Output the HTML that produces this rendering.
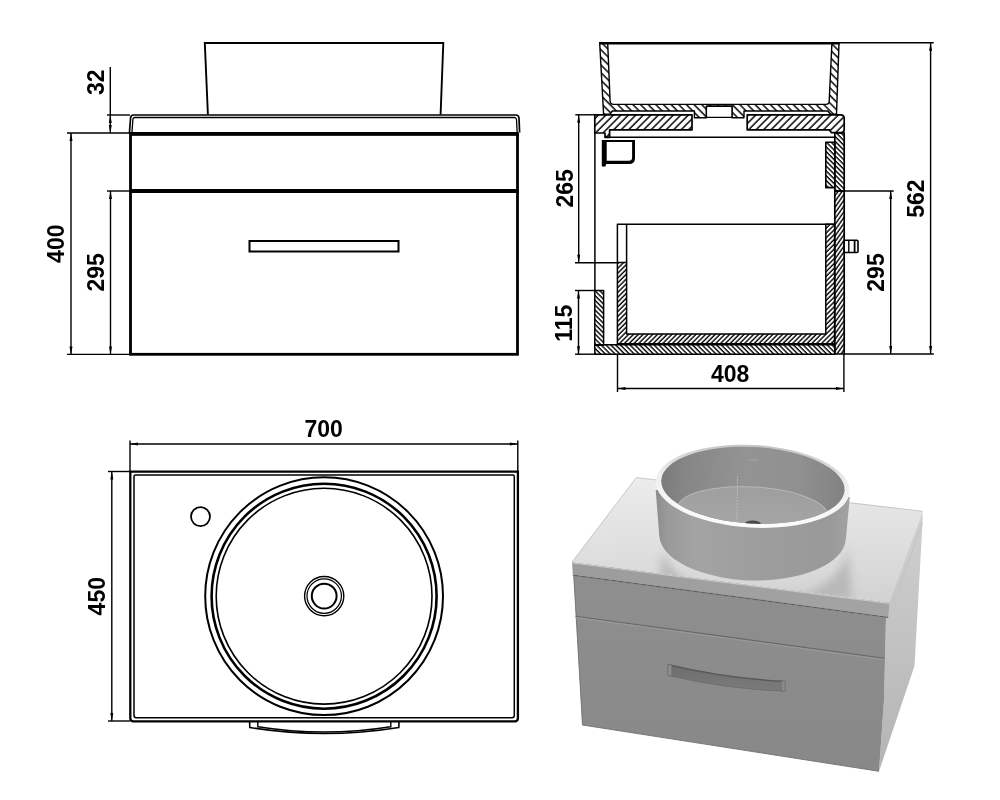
<!DOCTYPE html>
<html><head><meta charset="utf-8">
<style>
html,body{margin:0;padding:0;background:#fff;width:1000px;height:800px;overflow:hidden}
svg{display:block;filter:grayscale(1)}
text{font-family:"Liberation Sans",sans-serif;font-weight:bold;font-size:23px;fill:#000}
</style></head><body>
<svg width="1000" height="800" viewBox="0 0 1000 800">
<defs>
<pattern id="hw" patternUnits="userSpaceOnUse" width="5.3" height="10" patternTransform="rotate(45)">
<line x1="1" y1="-1" x2="1" y2="11" stroke="#000" stroke-width="1.45"/></pattern>
<pattern id="hb" patternUnits="userSpaceOnUse" width="5.4" height="10" patternTransform="rotate(-45)">
<line x1="1" y1="-1" x2="1" y2="11" stroke="#000" stroke-width="1.45"/></pattern>
<pattern id="hs" patternUnits="userSpaceOnUse" width="3.4" height="10" patternTransform="rotate(45)">
<line x1="1" y1="-1" x2="1" y2="11" stroke="#000" stroke-width="1.4"/></pattern>
<pattern id="hb2" patternUnits="userSpaceOnUse" width="3.4" height="10" patternTransform="rotate(-45)">
<line x1="1" y1="-1" x2="1" y2="11" stroke="#000" stroke-width="1.4"/></pattern>
<pattern id="hr" patternUnits="userSpaceOnUse" width="3.3" height="10" patternTransform="rotate(35)">
<line x1="1" y1="-1" x2="1" y2="11" stroke="#000" stroke-width="1.4"/></pattern>
<linearGradient id="gSide" x1="0" y1="0" x2="0" y2="1">
<stop offset="0" stop-color="#d0d0d0"/><stop offset="1" stop-color="#b4b4b4"/></linearGradient>
<linearGradient id="gFront" x1="0" y1="0" x2="0" y2="1">
<stop offset="0" stop-color="#8f8f8f"/><stop offset="1" stop-color="#888888"/></linearGradient>
<linearGradient id="gTop" x1="0.3" y1="0" x2="0.4" y2="1">
<stop offset="0" stop-color="#ececec"/><stop offset="0.6" stop-color="#dedede"/><stop offset="1" stop-color="#d3d3d3"/></linearGradient>
<linearGradient id="gBand" x1="0" y1="0" x2="1" y2="0">
<stop offset="0" stop-color="#9c9c9c"/><stop offset="1" stop-color="#a4a4a4"/></linearGradient>
<linearGradient id="gRim" x1="0" y1="0" x2="0" y2="1">
<stop offset="0" stop-color="#c4c4c4"/><stop offset="0.4" stop-color="#eeeeee"/><stop offset="1" stop-color="#fcfcfc"/></linearGradient>
<linearGradient id="gFloor" x1="0" y1="0" x2="0" y2="1">
<stop offset="0" stop-color="#9e9e9e"/><stop offset="1" stop-color="#a8a8a8"/></linearGradient>
<linearGradient id="gBowl" x1="0" y1="0" x2="1" y2="0">
<stop offset="0" stop-color="#8c8c8c"/><stop offset="0.06" stop-color="#9a9a9a"/><stop offset="0.2" stop-color="#a3a3a3"/><stop offset="0.55" stop-color="#9d9d9d"/><stop offset="0.9" stop-color="#999999"/><stop offset="1" stop-color="#a3a3a3"/></linearGradient>
<linearGradient id="gIn" x1="0" y1="0" x2="1" y2="0">
<stop offset="0" stop-color="#7a7a7a"/><stop offset="0.12" stop-color="#868686"/><stop offset="0.45" stop-color="#939393"/><stop offset="0.75" stop-color="#909090"/><stop offset="1" stop-color="#828282"/></linearGradient>
<linearGradient id="gHandle" x1="0" y1="0" x2="0" y2="1">
<stop offset="0" stop-color="#6c6c6c"/><stop offset="1" stop-color="#7c7c7c"/></linearGradient>
</defs>

<!-- ============ FRONT VIEW ============ -->
<g fill="none" stroke="#000">
<!-- basin -->
<path d="M207.9 114.5 L204.8 43 L443.3 43 L440.6 114.5" stroke-width="1.9"/>
<!-- worktop outer/inner -->
<path d="M129.4 133 L130.6 117.8 Q130.8 115 133.5 115 L515.8 115 Q518.8 115 519 118 L519.6 132.5" stroke-width="1.7"/>
<path d="M131.9 133 L132.9 119.5 Q133 117.5 135 117.5 L514.4 117.5 Q516.3 117.5 516.5 119.5 L517.2 133" stroke-width="1.3"/>
<!-- cabinet -->
<rect x="130.5" y="134" width="387" height="220.3" stroke-width="2.8"/>
<line x1="130" y1="133.9" x2="518.5" y2="133.9" stroke-width="3.8"/>
<line x1="130" y1="191" x2="518.5" y2="191" stroke-width="3.8"/>
<rect x="249.5" y="241" width="149" height="10.5" stroke-width="2"/>
</g>
<!-- dims front -->
<g stroke="#000" stroke-width="1.4" fill="none">
<line x1="110.3" y1="67" x2="110.3" y2="133"/>
<line x1="107" y1="115" x2="130" y2="115"/>
<line x1="67" y1="133" x2="130" y2="133"/>
<line x1="71" y1="133" x2="71" y2="354.4"/>
<line x1="67" y1="354.4" x2="130" y2="354.4"/>
<line x1="110.5" y1="191" x2="110.5" y2="354.4"/>
<line x1="107" y1="191" x2="130" y2="191"/>
</g>
<g fill="#000">
<path d="M110.3 115 l-1.5 8 h3z M110.3 133 l-1.5 -8 h3z"/>
<path d="M71 133 l-1.5 8 h3z M71 354.4 l-1.5 -8 h3z"/>
<path d="M110.5 191 l-1.5 8 h3z M110.5 354.4 l-1.5 -8 h3z"/>
</g>
<text transform="translate(103.7 82.3) rotate(-90)" text-anchor="middle">32</text>
<text transform="translate(63.8 243.7) rotate(-90)" text-anchor="middle">400</text>
<text transform="translate(103.6 272.4) rotate(-90)" text-anchor="middle">295</text>

<!-- ============ SECTION VIEW ============ -->
<g id="section" stroke="#000" stroke-linejoin="round">
<!-- basin section -->
<path fill="url(#hb)" stroke-width="1.4" d="M599.7 43.3 L607.7 43.3 L610.1 101 Q610.3 104.4 613.5 104.4 L826 104.4 Q829.1 104.4 829.2 101 L831.9 43.3 L839 43.3 L836.5 114.3 L830.3 114.3 L828 111 L744 111 L744 117.8 L732 117.8 L732 106.2 L706.4 106.2 L706.4 117.8 L694.4 117.8 L694.4 111 L612.2 111 L609.9 114.3 L603.6 114.3 Z"/>
<rect x="706.4" y="106.2" width="25.6" height="11.2" fill="#fff" stroke-width="1.4"/>
<line x1="599" y1="43.3" x2="839.5" y2="43.3" stroke-width="2.6"/>
<!-- worktop -->
<path fill="url(#hw)" stroke-width="1.7" d="M594.8 114.8 L692 114.8 L692 129.85 L609.6 129.85 L609.6 137.3 L605 137.3 L605 133 L594.8 133 Z"/>
<path fill="url(#hw)" stroke-width="1.7" d="M747.2 114.8 L840.5 114.8 Q844.2 114.8 844.2 118.3 L844.2 129.6 Q844.2 132.6 841.2 132.6 L831.5 132.6 L829.6 130.5 L829.6 129.85 L747.2 129.85 Z"/>
<path fill="none" stroke-width="1.5" d="M605 137.3 L834.5 137.3"/>
<line x1="594.9" y1="132" x2="594.9" y2="290.5" stroke-width="1.5"/>
<!-- bracket -->
<path fill="#000" stroke="none" fill-rule="evenodd" d="M601.8 140 H635 V158 Q635 164.1 629 164.1 H606.2 L605.4 166.6 H601.8 Z M606.7 142.1 H632.1 V157.5 Q632.1 160.7 628.9 160.7 H606.7 Z"/>
<!-- right wall -->
<rect x="834.8" y="132.8" width="9.4" height="58.2" fill="url(#hb2)" stroke-width="1.7"/>
<rect x="834.8" y="191" width="9.4" height="163" fill="url(#hr)" stroke-width="1.7"/>
<rect x="825.8" y="142.2" width="9" height="45.4" fill="url(#hb2)" stroke-width="1.6"/>
<!-- drawer box -->
<path fill="none" stroke-width="1.5" d="M617.4 262.6 L617.4 224.2 L834.5 224.2 M626.6 262.6 L626.6 224.2"/>
<path fill="url(#hs)" stroke-width="1.5" d="M617.4 262.6 L626.6 262.6 L626.6 334 L825.8 334 L825.8 224.2 L834.6 224.2 L834.6 343.8 L617.4 343.8 Z"/>
<!-- plinth & bottom -->
<rect x="594.8" y="290.5" width="8.8" height="54.8" fill="url(#hb2)" stroke-width="1.5"/>
<rect x="594.8" y="344.8" width="240" height="9.4" fill="url(#hb2)" stroke-width="1.5"/>
<!-- knob -->
<rect x="844.2" y="240.3" width="13.8" height="12.2" rx="1.2" fill="#fff" stroke-width="1.6"/>
<line x1="848.8" y1="240.3" x2="848.8" y2="252.5" stroke-width="1.4"/>
<line x1="854.6" y1="240.3" x2="854.6" y2="252.5" stroke-width="1.8"/>
</g>
<!-- dims section -->
<g stroke="#000" stroke-width="1.4" fill="none">
<line x1="575.3" y1="114.8" x2="595.3" y2="114.8"/>
<line x1="578.7" y1="114.8" x2="578.7" y2="262.8"/>
<line x1="575" y1="262.8" x2="617.4" y2="262.8"/>
<line x1="578.5" y1="290.5" x2="578.5" y2="354.2"/>
<line x1="575" y1="290.5" x2="594.8" y2="290.5"/>
<line x1="575" y1="354.2" x2="594.8" y2="354.2"/>
<line x1="617.5" y1="354" x2="617.5" y2="392"/>
<line x1="843.9" y1="354" x2="843.9" y2="392"/>
<line x1="617.5" y1="388.5" x2="843.9" y2="388.5"/>
<line x1="844" y1="191" x2="893.7" y2="191"/>
<line x1="890.7" y1="191" x2="890.7" y2="354"/>
<line x1="844" y1="354" x2="933.8" y2="354"/>
<line x1="839" y1="42.7" x2="933.7" y2="42.7"/>
<line x1="930.6" y1="42.7" x2="930.6" y2="354"/>
</g>
<g fill="#000">
<path d="M578.7 114.8 l-1.5 8 h3z M578.7 262.8 l-1.5 -8 h3z"/>
<path d="M578.5 290.5 l-1.5 8 h3z M578.5 354.2 l-1.5 -8 h3z"/>
<path d="M617.5 388.5 l8 -1.5 v3z M843.9 388.5 l-8 -1.5 v3z"/>
<path d="M890.7 191 l-1.5 8 h3z M890.7 354 l-1.5 -8 h3z"/>
<path d="M930.6 42.7 l-1.5 8 h3z M930.6 354 l-1.5 -8 h3z"/>
</g>
<text transform="translate(572.5 188.3) rotate(-90)" text-anchor="middle">265</text>
<text transform="translate(571.8 323.2) rotate(-90)" text-anchor="middle">115</text>
<text x="730.1" y="381.8" text-anchor="middle">408</text>
<text transform="translate(883.8 272.5) rotate(-90)" text-anchor="middle">295</text>
<text transform="translate(923.9 198.6) rotate(-90)" text-anchor="middle">562</text>

<!-- ============ PLAN VIEW ============ -->
<g fill="none" stroke="#000">
<path d="M130.3 471.7 H517.9 V718.3 Q517.9 721.3 514.9 721.3 H133.3 Q130.3 721.3 130.3 718.3 Z" stroke-width="2.3"/>
<path d="M134 476.5 Q134 475 135.5 475 H512.8 Q514.3 475 514.3 476.5 V715.6 Q514.3 717.8 512.1 717.8 H136.2 Q134 717.8 134 715.6 Z" stroke-width="1.5"/>
<circle cx="324.1" cy="596.2" r="118.9" stroke-width="2"/>
<circle cx="324.1" cy="596.2" r="112.5" stroke-width="2.6"/>
<circle cx="324.1" cy="596.2" r="107.9" stroke-width="1.6"/>
<circle cx="324.2" cy="596.1" r="19.6" stroke-width="1.4"/>
<circle cx="324.2" cy="596.1" r="17.2" stroke-width="1.2"/>
<circle cx="324.2" cy="596.1" r="12.4" stroke-width="2"/>
<circle cx="200.5" cy="516.6" r="9.5" stroke-width="1.8"/>
<path d="M249.6 722 L249.8 727.5 A465 465 0 0 0 398.8 727.5 L399 722" stroke-width="1.6"/>
<path d="M257.8 722 L257.8 726.8 A428 428 0 0 0 390.8 726.8 L390.8 722" stroke-width="1.4"/>
</g>
<g stroke="#000" stroke-width="1.4" fill="none">
<line x1="130" y1="440.5" x2="130" y2="471"/>
<line x1="517.8" y1="440.5" x2="517.8" y2="471"/>
<line x1="130" y1="444" x2="517.8" y2="444"/>
<line x1="111.8" y1="471.5" x2="111.8" y2="721"/>
<line x1="108" y1="471.5" x2="130" y2="471.5"/>
<line x1="108" y1="721" x2="130" y2="721"/>
</g>
<g fill="#000">
<path d="M130 444 l8 -1.5 v3z M517.8 444 l-8 -1.5 v3z"/>
<path d="M111.8 471.5 l-1.5 8 h3z M111.8 721 l-1.5 -8 h3z"/>
</g>
<text x="323.7" y="437.1" text-anchor="middle">700</text>
<text transform="translate(104.8 596.2) rotate(-90)" text-anchor="middle">450</text>

<!-- ============ 3D VIEW ============ -->
<g id="iso">
<clipPath id="cpTop"><path d="M636.3 477.5 L922.7 511.2 L889.6 602.4 L572 562 Z"/></clipPath>
<clipPath id="cpIn"><ellipse cx="752.9" cy="485.3" rx="91.8" ry="38.3" transform="rotate(3.2 752.9 485.3)"/></clipPath>
<filter id="blur3" x="-20%" y="-20%" width="140%" height="140%"><feGaussianBlur stdDeviation="4"/></filter>
<filter id="blur1"><feGaussianBlur stdDeviation="0.6"/></filter>
<!-- side face -->
<path fill="url(#gSide)" d="M888.5 603 L922.7 511.2 L922.5 523 L914.5 666 L879 771.3 L884 700 L886 617 Z"/>
<path d="M889 616 L922.3 523" stroke="#c4c4c4" stroke-width="1" fill="none"/>
<!-- cabinet front -->
<path fill="url(#gFront)" d="M573.6 575.5 L886 617.5 L884 700 L879 771.3 L582.5 725 Z"/>
<path d="M573.8 576 L582.5 725 L879 771.3" stroke="#707070" stroke-width="0.9" fill="none"/>
<!-- drawer seam -->
<path d="M575.5 616.2 L884.5 658.3" stroke="#686868" stroke-width="1.15" fill="none"/>
<path d="M575.7 617.6 L884.5 659.7" stroke="#9c9c9c" stroke-width="0.9" fill="none"/>
<!-- worktop front -->
<path fill="url(#gBand)" d="M572 562 L889.6 602.4 L888.2 616.8 L572.8 574.6 Z"/>
<path d="M572.8 575.2 L888.2 617.3" stroke="#606060" stroke-width="1.2" fill="none"/>
<path d="M572.3 563 L889.4 603.4" stroke="#c8c8c8" stroke-width="1.2" fill="none"/>
<!-- worktop top -->
<path fill="url(#gTop)" d="M636.3 477.5 L922.7 511.2 L889.6 602.4 L572 562 Z"/>
<path d="M572.2 561.8 L636.4 477.6 L922.6 511.3" stroke="#bdbdbd" stroke-width="0.8" fill="none"/>
<g clip-path="url(#cpTop)">
<path d="M662 548 C 668 585 730 600 760 600 C 800 600 846 585 848 545 L852 600 L660 600 Z" fill="#b9b9b9" filter="url(#blur3)"/>
</g>
<!-- handle -->
<path fill="url(#gHandle)" d="M667.7 664 Q726 678 785.3 680.8 L785.3 691.3 Q726 689 667.7 675.2 Z"/>
<path fill="none" stroke="#585858" stroke-width="1.4" d="M668 664.6 Q727 678.6 785 681.4"/>
<path fill="none" stroke="#6a6a6a" stroke-width="0.8" d="M668 675.4 Q727 689.2 785 691.2"/>
<path fill="#8c8c8c" stroke="#666" stroke-width="0.6" d="M667.9 664.3 L671.8 665 L671.8 676 L667.9 675.2Z"/>
<path fill="#8a8a8a" stroke="#666" stroke-width="0.6" d="M781.3 680.7 L785.2 680.9 L785.2 691.2 L781.3 691Z"/>
<!-- basin body -->
<path fill="url(#gBowl)" d="M655.7 490 L659.3 536 C 662 565 715 580.5 755 580.6 C 800 580.5 843 565 845.8 540 L849.8 497 Z"/>
<!-- rim outer ellipse -->
<ellipse cx="752.7" cy="486.3" rx="97.1" ry="41.3" transform="rotate(3.2 752.7 486.3)" fill="url(#gRim)"/>
<!-- inner -->
<ellipse cx="752.9" cy="485.3" rx="91.8" ry="38.3" transform="rotate(3.2 752.9 485.3)" fill="url(#gIn)"/>
<g clip-path="url(#cpIn)">
<ellipse cx="752.7" cy="511.5" rx="75" ry="24.5" transform="rotate(3.2 752.7 511.5)" fill="url(#gFloor)" stroke="#b8b8b8" stroke-width="1"/>
<ellipse cx="752.7" cy="523.5" rx="8" ry="3" fill="#4a4a4a"/>
<ellipse cx="753" cy="460" rx="5" ry="1.6" fill="#9c9c9c"/>
<line x1="737.5" y1="476" x2="737" y2="523" stroke="#c0c0c0" stroke-width="0.8" stroke-dasharray="2 1"/>
</g>
</g>
</svg>
</body></html>
